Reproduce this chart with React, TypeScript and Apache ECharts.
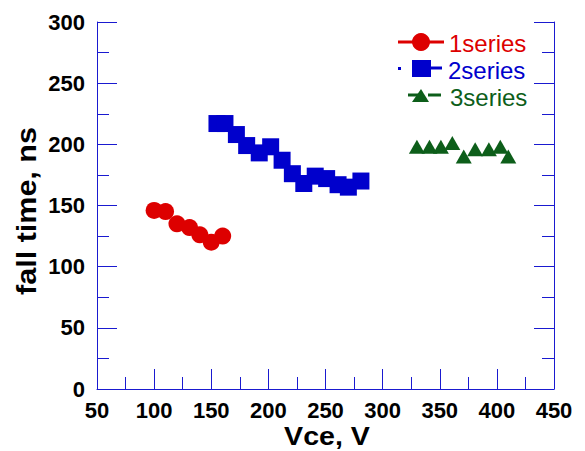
import React, { useEffect, useRef } from "react";
import * as echarts from "echarts";

const series1X = [100, 110, 120, 131, 140, 150, 160];
const series1Y = [146, 145, 135, 132, 126, 120, 125];
const series2X = [155, 162, 172, 181, 192, 202, 212, 221, 231, 241, 251, 261, 270, 281];
const series2Y = [217, 217, 208, 199, 193, 198, 187, 176, 168, 174, 172, 167, 165, 170];
const series3X = [330, 341, 351, 361, 371, 381, 393, 403, 410];
const series3Y = [198, 198, 198, 201, 190, 196, 196, 198, 190];
const seriesNames = ["1series", "2series", "3series"];
const xTitle = "Vce, V";
const yTitle = "fall time, ns";

const RED = "#dd0000";
const BLUE = "#0000cc";
const GREEN = "#0d5e1a";
const AXIS = "#1a1ad0";

const zip = (xs: number[], ys: number[]) => xs.map((x, i) => [x, ys[i]]);

export default function App() {
  const ref = useRef<HTMLDivElement>(null);
  useEffect(() => {
    if (!ref.current) return;
    const chart = echarts.init(ref.current, undefined, { renderer: "svg" });
    const axisCommon = {
      axisLine: { show: true, lineStyle: { color: AXIS, width: 1 } },
      axisTick: { show: true, inside: true, length: 20, lineStyle: { color: AXIS, width: 1 } },
      minorTick: { show: true, splitNumber: 2, length: 12, lineStyle: { color: AXIS, width: 1 } },
      splitLine: { show: false },
    };
    const labelStyle = {
      color: "#000",
      fontFamily: "Liberation Sans, Arial, sans-serif",
      fontWeight: "bold" as const,
      fontSize: 22,
    };
    chart.setOption({
      animation: false,
      grid: { left: 97, right: 31, top: 22, bottom: 62 },
      xAxis: {
        type: "value",
        min: 50,
        max: 450,
        interval: 50,
        ...axisCommon,
        axisLabel: { ...labelStyle, margin: 10 },
      },
      yAxis: [
        {
          type: "value",
          min: 0,
          max: 300,
          interval: 50,
          position: "left",
          ...axisCommon,
          axisLabel: { ...labelStyle, margin: 12 },
        },
        {
          type: "value",
          min: 0,
          max: 300,
          interval: 50,
          position: "right",
          ...axisCommon,
          axisLabel: { show: false },
        },
      ],
      series: [
        {
          name: seriesNames[0],
          type: "scatter",
          data: zip(series1X, series1Y),
          symbol: "circle",
          symbolSize: 17,
          itemStyle: { color: RED, opacity: 1 },
        },
        {
          name: seriesNames[1],
          type: "scatter",
          data: zip(series2X, series2Y),
          symbol: "rect",
          symbolSize: 17,
          itemStyle: { color: BLUE, opacity: 1 },
        },
        {
          name: seriesNames[2],
          type: "scatter",
          data: zip(series3X, series3Y),
          symbol: "triangle",
          symbolSize: [16, 14],
          itemStyle: { color: GREEN, opacity: 1 },
        },
      ],
      graphic: [
        {
          type: "text",
          x: 27,
          y: 211,
          rotation: Math.PI / 2,
          scaleX: 1.13,
          style: {
            text: yTitle,
            font: "bold 27px 'Liberation Sans', Arial, sans-serif",
            fill: "#000",
            align: "center",
            verticalAlign: "middle",
          },
        },
        {
          type: "text",
          x: 327,
          y: 436,
          scaleX: 1.1,
          style: {
            text: xTitle,
            font: "bold 26px 'Liberation Sans', Arial, sans-serif",
            fill: "#000",
            align: "center",
            verticalAlign: "middle",
          },
        },
        // legend item 1
        { type: "line", shape: { x1: 398, y1: 42, x2: 444, y2: 42 }, style: { stroke: RED, lineWidth: 3 } },
        { type: "circle", shape: { cx: 421, cy: 42, r: 9 }, style: { fill: RED } },
        {
          type: "text",
          x: 449,
          y: 43,
          style: {
            text: seriesNames[0],
            font: "24px 'Liberation Sans', Arial, sans-serif",
            fill: RED,
            verticalAlign: "middle",
          },
        },
        // legend item 2
        { type: "rect", shape: { x: 398, y: 67, width: 3, height: 3 }, style: { fill: BLUE } },
        { type: "rect", shape: { x: 412, y: 60, width: 19, height: 17 }, style: { fill: BLUE } },
        { type: "line", shape: { x1: 431, y1: 68, x2: 442, y2: 68 }, style: { stroke: BLUE, lineWidth: 3 } },
        {
          type: "text",
          x: 448,
          y: 70,
          style: {
            text: seriesNames[1],
            font: "24px 'Liberation Sans', Arial, sans-serif",
            fill: BLUE,
            verticalAlign: "middle",
          },
        },
        // legend item 3
        { type: "line", shape: { x1: 408, y1: 95, x2: 418, y2: 95 }, style: { stroke: GREEN, lineWidth: 3 } },
        {
          type: "polygon",
          shape: { points: [[412, 102], [421, 89], [429, 102]] },
          style: { fill: GREEN },
        },
        { type: "line", shape: { x1: 428, y1: 95, x2: 441, y2: 95 }, style: { stroke: GREEN, lineWidth: 3 } },
        {
          type: "text",
          x: 450,
          y: 97,
          style: {
            text: seriesNames[2],
            font: "24px 'Liberation Sans', Arial, sans-serif",
            fill: GREEN,
            verticalAlign: "middle",
          },
        },
      ],
    });
    return () => chart.dispose();
  }, []);
  return <div ref={ref} style={{ width: 585, height: 451, position: "absolute", left: 0, top: 0 }} />;
}
